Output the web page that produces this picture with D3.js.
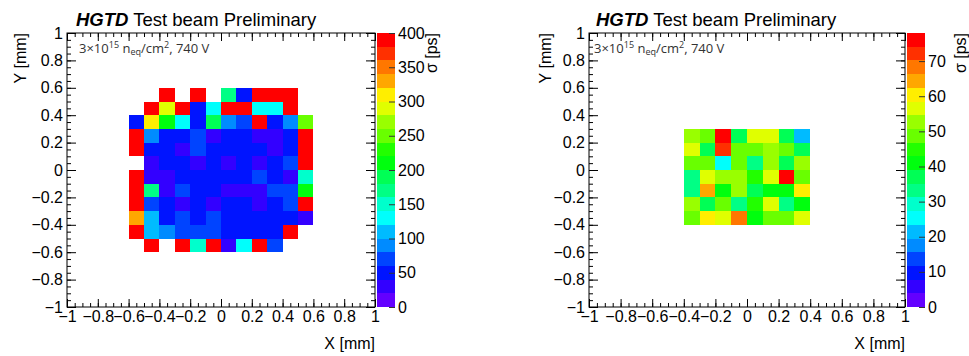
<!DOCTYPE html>
<html>
<head>
<meta charset="utf-8">
<script src="https://cdn.jsdelivr.net/npm/d3@7"></script>
<style>
  body { margin: 0; background: #fff; }
  svg { display: block; font-family: "Liberation Sans", Arial, sans-serif; }
</style>
</head>
<body>
<div id="chart"></div>
<script>
// bin centres (mm) and sigma values (ps), rows from top (high Y) to bottom
const binWidth = 0.1;

const leftXBins = [-0.55, -0.45, -0.35, -0.25, -0.15, -0.05, 0.05, 0.15, 0.25, 0.35, 0.45, 0.55];
const leftYBins = [0.55, 0.45, 0.35, 0.25, 0.15, 0.05, -0.05, -0.15, -0.25, -0.35, -0.45, -0.55];
const leftSigma = [
  [null, null, 392, null, 395, null, 171, 47, 388, 396, 391, null],
  [null, 390, 287, 393, 52, 131, 389, 394, 128, 133, 392, null],
  [54, 305, 212, 134, 49, 191, 88, 67, 397, 51, 91, 248],
  [386, 93, 46, 51, 72, 33, 48, 44, 31, 35, 53, 391],
  [389, 45, 50, 34, 68, 47, 43, 49, 52, 28, 46, 393],
  [null, 36, 48, 55, 32, 44, 29, 51, 37, 47, 71, 388],
  [394, 31, 37, 45, 53, 49, 42, 47, 66, 51, 34, 152],
  [391, 168, 33, 74, 48, 52, 35, 30, 38, 69, 75, 207],
  [387, 65, 43, 36, 55, 27, 46, 50, 32, 44, 73, 395],
  [327, 113, 47, 62, 54, 77, 41, 48, 53, 45, 50, 38],
  [390, 108, 84, 70, 64, 76, 44, 52, 46, 49, 398, null],
  [null, 392, null, 386, 147, 389, 36, 125, 393, 68, null, null]
];

const rightXBins = [-0.35, -0.25, -0.15, -0.05, 0.05, 0.15, 0.25, 0.35];
const rightYBins = [0.25, 0.15, 0.05, -0.05, -0.15, -0.25, -0.35];
const rightSigma = [
  [52.3, 48.1, 76.4, 37.2, 56.8, 55.9, 36.5, 21.7],
  [57.1, 36.8, 72.3, 49.2, 48.5, 53.1, 47.6, 37.4],
  [48.9, 47.3, 25.6, 49.5, 33.4, 52.8, 36.9, 53.3],
  [33.8, 56.2, 51.9, 52.4, 44.6, 57.3, 76.8, 48.2],
  [32.7, 64.5, 41.2, 53.6, 37.8, 40.6, 41.7, 60.1],
  [51.6, 36.3, 49.8, 33.1, 45.2, 55.7, 32.4, 40.3],
  [47.9, 60.8, 56.1, 68.5, 41.4, 49.1, 48.4, 56.9]
];

const axisTicks = [-1, -0.8, -0.6, -0.4, -0.2, 0, 0.2, 0.4, 0.6, 0.8, 1];
const leftZTicks = [0, 50, 100, 150, 200, 250, 300, 350, 400];
const rightZTicks = [0, 10, 20, 30, 40, 50, 60, 70];
const leftZMax = 400;
const rightZMax = 78;

const W = 969, H = 356;
const nContours = 20;

// ROOT "pretty" palette (50 colours, violet -> red), sampled for 20 contours
function rootColor(k) {
  const j = Math.floor((k + 0.99) * 50 / nContours);
  if (j >= 49) return '#ff0000';
  return d3.hsl(280 - (j + 1) * 5.6, 1, 0.5).formatHex();
}
const contourColors = d3.range(nContours).map(rootColor);

const svg = d3.select('#chart').append('svg')
  .attr('width', W)
  .attr('height', H);

function drawPanel(cfg) {
  const g = svg.append('g');
  const x = d3.scaleLinear().domain([-1, 1]).range([cfg.x0, cfg.x1]);
  const y = d3.scaleLinear().domain([-1, 1]).range([cfg.y1, cfg.y0]);
  const z = d3.scaleLinear().domain([0, cfg.zMax]).range([cfg.y1, cfg.y0]);
  const color = d3.scaleQuantize().domain([0, cfg.zMax]).range(contourColors);

  const cells = cfg.yBins.flatMap((yc, r) =>
    cfg.xBins.map((xc, c) => ({ x: xc, y: yc, v: cfg.values[r][c] })))
    .filter(d => d.v != null);

  // cells
  g.append('g')
    .attr('shape-rendering', 'crispEdges')
    .selectAll('rect')
    .data(cells)
    .join('rect')
      .attr('x', d => x(d.x - binWidth / 2))
      .attr('y', d => y(d.y + binWidth / 2))
      .attr('width', d => x(d.x + binWidth / 2) - x(d.x - binWidth / 2))
      .attr('height', d => y(d.y - binWidth / 2) - y(d.y + binWidth / 2))
      .attr('fill', d => color(d.v));

  const minor = d3.range(-1, 1.0001, 0.05);
  const fmt = d3.format('');

  // x axes (bottom with labels, top mirrored)
  g.append('g')
    .attr('transform', `translate(0,${cfg.y1})`)
    .call(d3.axisBottom(x).tickValues(minor).tickSizeInner(-4).tickSizeOuter(0).tickFormat(''));
  g.append('g')
    .attr('class', 'lab')
    .attr('transform', `translate(0,${cfg.y1})`)
    .call(d3.axisBottom(x).tickValues(axisTicks).tickSizeInner(-8).tickSizeOuter(0).tickPadding(4).tickFormat(fmt));
  g.append('g')
    .attr('transform', `translate(0,${cfg.y0})`)
    .call(d3.axisTop(x).tickValues(minor).tickSizeInner(-4).tickSizeOuter(0).tickFormat(''));
  g.append('g')
    .attr('transform', `translate(0,${cfg.y0})`)
    .call(d3.axisTop(x).tickValues(axisTicks).tickSizeInner(-8).tickSizeOuter(0).tickFormat(''));

  // y axes (left with labels, right mirrored)
  g.append('g')
    .attr('transform', `translate(${cfg.x0},0)`)
    .call(d3.axisLeft(y).tickValues(minor).tickSizeInner(-4).tickSizeOuter(0).tickFormat(''));
  g.append('g')
    .attr('class', 'lab')
    .attr('transform', `translate(${cfg.x0},0)`)
    .call(d3.axisLeft(y).tickValues(axisTicks).tickSizeInner(-9).tickSizeOuter(0).tickPadding(4).tickFormat(fmt));
  g.append('g')
    .attr('transform', `translate(${cfg.x1},0)`)
    .call(d3.axisRight(y).tickValues(minor).tickSizeInner(-4).tickSizeOuter(0).tickFormat(''));
  g.append('g')
    .attr('transform', `translate(${cfg.x1},0)`)
    .call(d3.axisRight(y).tickValues(axisTicks).tickSizeInner(-9).tickSizeOuter(0).tickFormat(''));

  g.selectAll('.domain').remove();
  g.selectAll('.tick line').attr('stroke', '#000');
  g.selectAll('.lab text').attr('fill', '#000').style('font-size', '16px');

  // frame
  g.append('rect')
    .attr('x', cfg.x0).attr('y', cfg.y0)
    .attr('width', cfg.x1 - cfg.x0).attr('height', cfg.y1 - cfg.y0)
    .attr('fill', 'none').attr('stroke', '#000');

  // colour bar
  g.append('g')
    .attr('shape-rendering', 'crispEdges')
    .selectAll('rect')
    .data(contourColors)
    .join('rect')
      .attr('x', cfg.cb0)
      .attr('width', cfg.cb1 - cfg.cb0)
      .attr('y', (d, i) => z((i + 1) * cfg.zMax / nContours))
      .attr('height', (d, i) => z(i * cfg.zMax / nContours) - z((i + 1) * cfg.zMax / nContours))
      .attr('fill', d => d);

  const zAxis = g.append('g')
    .attr('transform', `translate(${cfg.cb1},0)`)
    .call(d3.axisRight(z).tickValues(cfg.zTicks).tickSizeInner(-6).tickSizeOuter(0).tickPadding(3));
  zAxis.select('.domain').remove();
  zAxis.selectAll('.tick line').attr('stroke', '#333');
  zAxis.selectAll('text').attr('fill', '#000').style('font-size', '16px');

  // titles
  g.append('text')
    .attr('transform', `translate(${cfg.cbTitleX},${cfg.y0}) rotate(-90)`)
    .attr('text-anchor', 'end')
    .attr('dy', '0.35em')
    .style('font-size', '16px')
    .text('σ [ps]');

  g.append('text')
    .attr('transform', `translate(${cfg.yTitleX},${cfg.y0}) rotate(-90)`)
    .attr('text-anchor', 'end')
    .attr('dy', '0.35em')
    .style('font-size', '16px')
    .text('Y [mm]');

  g.append('text')
    .attr('x', cfg.x1)
    .attr('y', 349)
    .attr('text-anchor', 'end')
    .style('font-size', '16px')
    .text('X [mm]');

  const title = g.append('text')
    .attr('x', cfg.titleX)
    .attr('y', 26)
    .style('font-size', '18.5px');
  title.append('tspan').attr('font-weight', 'bold').attr('font-style', 'italic').text('HGTD');
  title.append('tspan').text(' Test beam Preliminary');

  const label = g.append('text')
    .attr('x', cfg.labelX)
    .attr('y', 53)
    .attr('fill', '#333')
    .style('font-family', '"Open Sans", Lato, sans-serif')
    .style('font-size', '13px');
  label.append('tspan').text('3×10');
  label.append('tspan').attr('dy', -5).style('font-size', '9px').text('15');
  label.append('tspan').attr('dy', 5).text(' n');
  label.append('tspan').attr('dy', 2).style('font-size', '9px').text('eq');
  label.append('tspan').attr('dy', -2).text('/cm');
  label.append('tspan').attr('dy', -5).style('font-size', '9px').text('2');
  label.append('tspan').attr('dy', 5).text(', 740 V');
}

drawPanel({
  x0: 67, x1: 375, y0: 33, y1: 307, cb0: 377, cb1: 395,
  xBins: leftXBins, yBins: leftYBins, values: leftSigma,
  zMax: leftZMax, zTicks: leftZTicks,
  cbTitleX: 431, yTitleX: 20, titleX: 76, labelX: 79
});

drawPanel({
  x0: 589, x1: 905, y0: 33, y1: 307, cb0: 907, cb1: 925,
  xBins: rightXBins, yBins: rightYBins, values: rightSigma,
  zMax: rightZMax, zTicks: rightZTicks,
  cbTitleX: 960, yTitleX: 545, titleX: 596, labelX: 594
});
</script>
</body>
</html>
